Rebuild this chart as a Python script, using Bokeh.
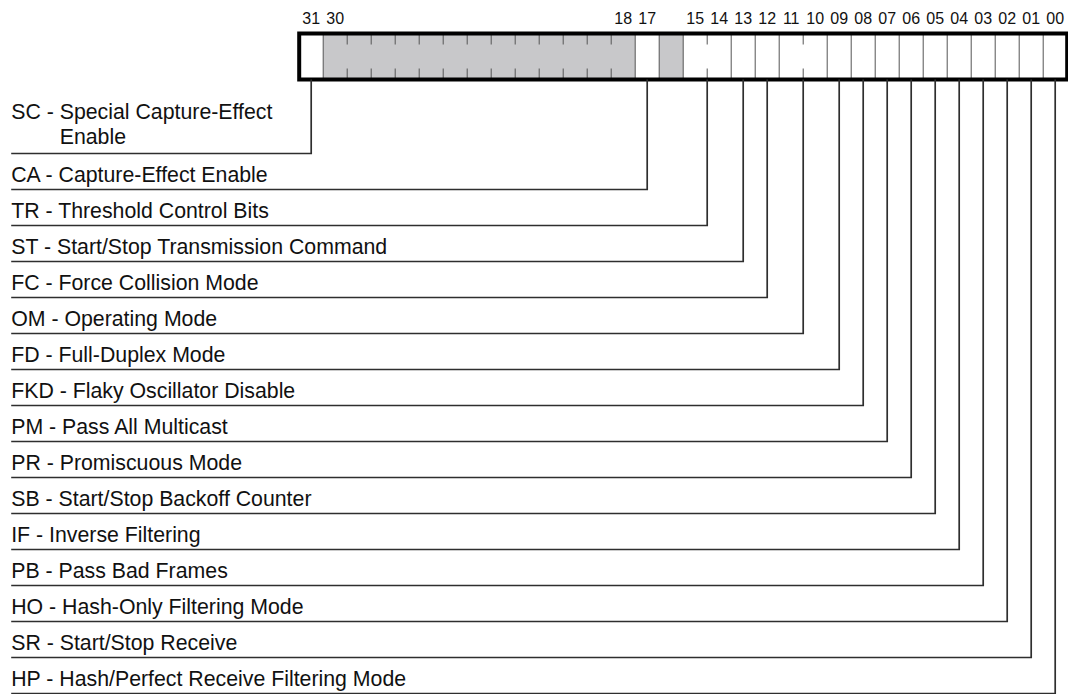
from bokeh.plotting import figure
from bokeh.models import Range1d, ColumnDataSource
from bokeh.core.properties import value
from bokeh.embed import file_html
from bokeh.resources import INLINE

# ---------------- data ----------------
field_abbr = ["SC", "CA", "TR", "ST", "FC", "OM", "FD", "FKD", "PM", "PR",
              "SB", "IF", "PB", "HO", "SR", "HP"]
field_desc = ["Special Capture-Effect\nEnable", "Capture-Effect Enable",
              "Threshold Control Bits", "Start/Stop Transmission Command",
              "Force Collision Mode", "Operating Mode", "Full-Duplex Mode",
              "Flaky Oscillator Disable", "Pass All Multicast",
              "Promiscuous Mode", "Start/Stop Backoff Counter",
              "Inverse Filtering", "Pass Bad Frames",
              "Hash-Only Filtering Mode", "Start/Stop Receive",
              "Hash/Perfect Receive Filtering Mode"]
field_hi = [31, 17, 15, 13, 12, 11, 9, 8, 7, 6, 5, 4, 3, 2, 1, 0]
field_lo = [31, 17, 14, 13, 12, 10, 9, 8, 7, 6, 5, 4, 3, 2, 1, 0]
reserved_hi = [30, 16]
reserved_lo = [18, 16]
bit_label_bits = [31, 30, 18, 17, 15, 14, 13, 12, 11, 10, 9, 8, 7, 6, 5, 4, 3, 2, 1, 0]
bit_label_text = ["31", "30", "18", "17", "15", "14", "13", "12", "11", "10",
                  "09", "08", "07", "06", "05", "04", "03", "02", "01", "00"]
REG_BITS = 32

# ---------------- layout / style ----------------
W, H = 1068, 694
CELL_PX = 24.0
LEFT_PX = 298.7                      # pixel of the left edge of bit 31
X_START = (REG_BITS - 0.5) + LEFT_PX / CELL_PX
X_END = (REG_BITS - 0.5) - (W - LEFT_PX) / CELL_PX
LABEL_X = 43.5                       # bit-units position of label column
BOX_TOP, BOX_BOT = 33.0, 79.0        # pixel rows (y range is in pixels, top=0)
TICK_LEN = 11.0
ROW0, ROW_STEP = 153.0, 36.0
NUM_BASE = 17.8
TXT_GAP = 14.5
TXT_GAP_MULTI = 17.0
LINE_SPACING = 25.0

FONT = value("Liberation Sans")
TEXT_COLOR = "#111111"
LINE_COLOR = "#2e2e2e"
DIV_COLOR = "#555555"
GREY = "#c8c8ca"

p = figure(width=W, height=H, output_backend="svg", toolbar_location=None,
           x_range=Range1d(X_START, X_END), y_range=Range1d(H, 0),
           min_border=0, outline_line_color=None, background_fill_color="white",
           border_fill_color="white")
p.axis.visible = False
p.grid.visible = False

# register body: white, then reserved groups in grey
p.quad(left=[REG_BITS - 0.5], right=[-0.5], top=[BOX_TOP], bottom=[BOX_BOT],
       fill_color="white", line_color=None)
res = ColumnDataSource(dict(
    left=[h + 0.5 for h in reserved_hi], right=[l - 0.5 for l in reserved_lo],
    top=[BOX_TOP] * len(reserved_hi), bottom=[BOX_BOT] * len(reserved_hi)))
p.quad(left="left", right="right", top="top", bottom="bottom", source=res,
       fill_color=GREY, line_color=None)

# dividers between adjacent bits
groups = list(zip(field_hi, field_lo)) + list(zip(reserved_hi, reserved_lo))
def same_group(a, b):
    return any(lo <= a <= hi and lo <= b <= hi for hi, lo in groups)

fx0, fx1, fy0, fy1 = [], [], [], []
for b in range(REG_BITS - 1, 0, -1):
    x = b - 0.5
    if same_group(b, b - 1):
        fx0 += [x, x]; fx1 += [x, x]
        fy0 += [BOX_TOP, BOX_BOT]; fy1 += [BOX_TOP + TICK_LEN, BOX_BOT - TICK_LEN]
    else:
        fx0.append(x); fx1.append(x); fy0.append(BOX_TOP); fy1.append(BOX_BOT)
p.segment(x0=fx0, y0=fy0, x1=fx1, y1=fy1, line_color=DIV_COLOR, line_width=1)

# outer border
p.quad(left=[REG_BITS - 0.5], right=[-0.5], top=[BOX_TOP], bottom=[BOX_BOT],
       fill_color=None, line_color="black", line_width=4, line_join="miter")

# bit numbers
p.text(x=bit_label_bits, y=[NUM_BASE] * len(bit_label_bits), text=bit_label_text,
       text_font=FONT, text_font_size="16px", text_color=TEXT_COLOR,
       text_align="center", text_baseline="alphabetic")

# leaders and labels
xs, ys = [], []
tx, ty, tt, cx, cy, ct = [], [], [], [], [], []
for i, (ab, desc, hi, lo) in enumerate(zip(field_abbr, field_desc, field_hi, field_lo)):
    ry = ROW0 + ROW_STEP * i
    bx = (hi + lo) / 2.0
    xs.append([bx, bx, LABEL_X]); ys.append([BOX_BOT, ry, ry])
    lines = desc.split("\n")
    if len(lines) == 1:
        tx.append(LABEL_X); ty.append(ry - TXT_GAP); tt.append(f"{ab} - {lines[0]}")
    else:
        n = len(lines)
        for k, ln in enumerate(lines):
            yb = ry - TXT_GAP_MULTI - LINE_SPACING * (n - 1 - k)
            if k == 0:
                tx.append(LABEL_X); ty.append(yb); tt.append(f"{ab} - {ln}")
            else:
                cx.append(LABEL_X); cy.append(yb); ct.append(ln)

p.multi_line(xs=xs, ys=ys, line_color=LINE_COLOR, line_width=1.7, line_join="miter")
p.text(x=tx, y=ty, text=tt, text_font=FONT, text_font_size="21.3px",
       text_color=TEXT_COLOR, text_align="left", text_baseline="alphabetic")
p.text(x=cx, y=cy, text=ct, text_font=FONT, text_font_size="21.3px", x_offset=48.5,
       text_color=TEXT_COLOR, text_align="left", text_baseline="alphabetic")

open("out.html", "w").write(file_html(p, INLINE))
